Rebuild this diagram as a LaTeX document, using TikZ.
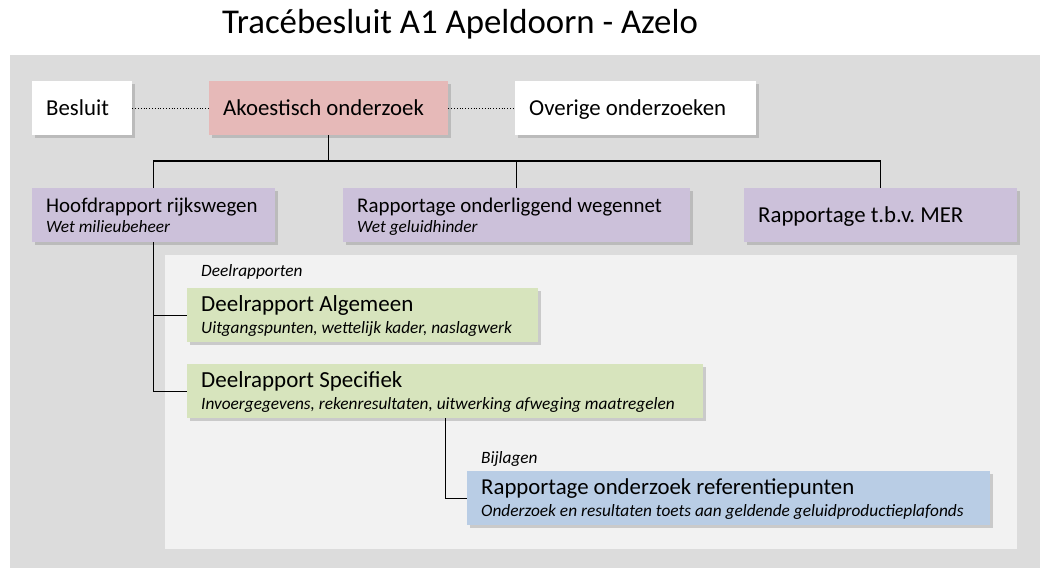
\documentclass[tikz,border=0pt]{standalone}
\usepackage{fontspec}
\setmainfont{Carlito}
\usetikzlibrary{shadows}

\newcommand{\fsz}[1]{\fontsize{#1}{20}\selectfont}
\newcommand{\subfont}{\fontsize{17.3}{20}\selectfont\itshape\spaceskip=0pt\xspaceskip=0pt}
\newcommand{\topstrut}{\rule[-5pt]{0pt}{24pt}}
\newcommand{\botstrut}{\rule[-5pt]{0pt}{5pt}}

\definecolor{bggray}{HTML}{DCDCDC}
\definecolor{panelgray}{HTML}{F2F2F2}
\definecolor{akored}{HTML}{E6B9B8}
\definecolor{rapviolet}{HTML}{CCC1DA}
\definecolor{deelgreen}{HTML}{D7E4BD}
\definecolor{bijblue}{HTML}{B9CDE5}

\begin{document}
\begin{tikzpicture}[x=1pt,y=-1pt,
  box/.style={anchor=north west, inner xsep=14pt, inner ysep=0pt, align=left,
    minimum height=54pt, font=\fsz{22.8},
    execute at begin node={\parindent=0pt\spaceskip=0pt\xspaceskip=0pt\frenchspacing\topstrut},
    execute at end node={\botstrut},
    drop shadow={shadow xshift=3pt, shadow yshift=-3pt, opacity=0.35}},
  link/.style={line width=1.4pt},
  dotlink/.style={line width=0.8pt, dotted}]
            \useasboundingbox (0,0) rectangle (1040,568);
            % panels
            \fill[bggray] (10,55) rectangle (1040,568);
            \fill[panelgray] (165,255) rectangle (1017,549);

            % title and labels
            \node[font=\fontsize{34.8}{40}\selectfont, anchor=base] (title) at (460,33) {Tracébesluit A1 Apeldoorn - Azelo};
            \node[font=\subfont, anchor=base west, inner sep=0pt] (deellabel) at (201,276) {Deelrapporten};
            \node[font=\subfont, anchor=base west, inner sep=0pt] (bijlabel) at (481,463) {Bijlagen};

            % boxes
            \node[box, fill=white, text width=72pt] (besluit) at (32,81) {Besluit};
            \node[box, fill=akored, text width=211pt] (akoestisch) at (209,81) {Akoestisch onderzoek};
            \node[box, fill=white, text width=213pt] (overige) at (515,81) {Overige onderzoeken};
            \node[box, fill=rapviolet, font=\fsz{20.9}, text width=215pt] (hoofd) at (32,188) {Hoofdrapport rijkswegen\\\subfont Wet milieubeheer};
            \node[box, fill=rapviolet, font=\fsz{20.9}, text width=319pt] (onder) at (343,188) {Rapportage onderliggend wegennet\\\subfont Wet geluidhinder};
            \node[box, fill=rapviolet, text width=245pt] (mer) at (744,188) {Rapportage t.b.v. MER};
            \node[box, fill=deelgreen, font=\fsz{23}, text width=323pt] (algemeen) at (187,288) {Deelrapport Algemeen\\[2pt]\subfont Uitgangspunten, wettelijk kader, naslagwerk};
            \node[box, fill=deelgreen, font=\fsz{23}, text width=488pt] (specifiek) at (187,364) {Deelrapport Specifiek\\[2pt]\subfont Invoergegevens, rekenresultaten, uitwerking afweging maatregelen};
            \node[box, fill=bijblue, text width=495pt] (referentie) at (467,471) {Rapportage onderzoek referentiepunten\\[2pt]\subfont Onderzoek en resultaten toets aan geldende geluidproductieplafonds};

            % connectors
            \coordinate (bus) at (0,161);
            \draw[dotlink] (besluit) -- (akoestisch);
            \draw[dotlink] (akoestisch) -- (overige);
            \draw[link] (akoestisch.south) -- (akoestisch.south |- bus);
            \draw[link] (hoofd.north) -- (hoofd.north |- bus) -- (mer.north |- bus) -- (mer.north);
            \draw[link] (onder.north) -- (onder.north |- bus);
            \draw[link] (hoofd.south) |- (algemeen.west);
            \draw[link] (hoofd.south) |- (specifiek.west);
            \draw[link] (specifiek.south) |- (referentie.west);
        \end{tikzpicture}
\end{document}
